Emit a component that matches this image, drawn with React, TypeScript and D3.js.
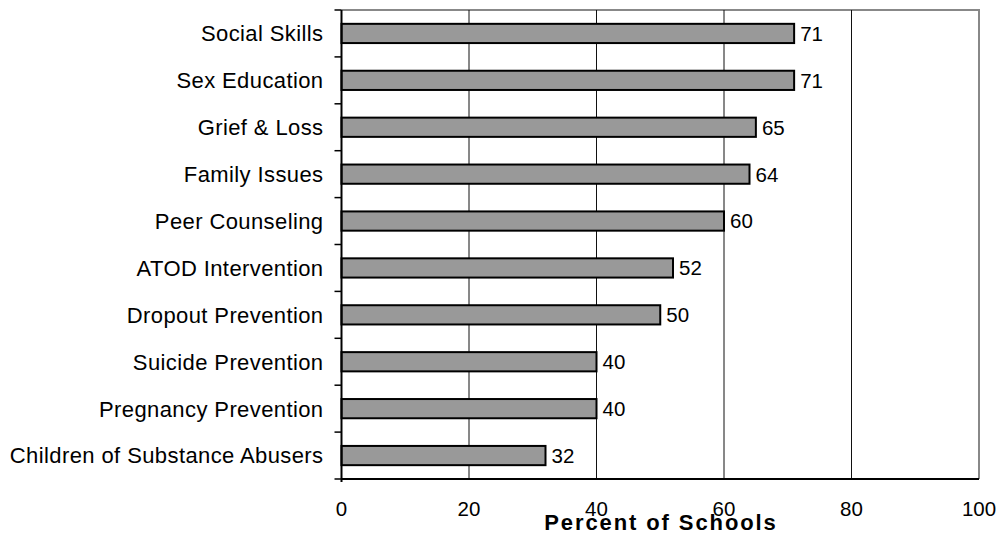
import { useEffect, useRef } from "react";
import * as d3 from "d3";

const categories = [
  "Social Skills",
  "Sex Education",
  "Grief & Loss",
  "Family Issues",
  "Peer Counseling",
  "ATOD Intervention",
  "Dropout Prevention",
  "Suicide Prevention",
  "Pregnancy Prevention",
  "Children of Substance Abusers",
];
const values = [71, 71, 65, 64, 60, 52, 50, 40, 40, 32];
const xTicks = [0, 20, 40, 60, 80, 100];

const W = 1007;
const H = 539;
const font = "Arial, 'Liberation Sans', sans-serif";

export default function App() {
  const ref = useRef<SVGSVGElement | null>(null);

  useEffect(() => {
    if (!ref.current) return;
    const svg = d3.select(ref.current);
    svg.selectAll("*").remove();

    const left = 341.5;
    const right = 979;
    const top = 10;
    const bottom = 479;

    const x = d3.scaleLinear().domain([0, 100]).range([left, right]);
    const y = d3
      .scaleBand<string>()
      .domain(categories)
      .range([top, bottom])
      .paddingInner(0.59)
      .paddingOuter(0.295);
    const band = d3.scaleBand<string>().domain(categories).range([top, bottom]);

    // frame (top/right gray)
    svg
      .append("path")
      .attr("d", `M${left},${top}H${right}V${bottom}`)
      .attr("fill", "none")
      .attr("stroke", "#888")
      .attr("stroke-width", 2);

    // gridlines
    svg
      .append("g")
      .selectAll("line")
      .data(xTicks.slice(1, -1))
      .join("line")
      .attr("x1", (d) => x(d))
      .attr("x2", (d) => x(d))
      .attr("y1", top)
      .attr("y2", bottom)
      .attr("stroke", "#111")
      .attr("stroke-width", 1);

    // bars
    const rows = categories.map((c, i) => ({ c, v: values[i] }));
    svg
      .append("g")
      .selectAll("rect")
      .data(rows)
      .join("rect")
      .attr("x", x(0))
      .attr("y", (d) => y(d.c)!)
      .attr("width", (d) => x(d.v) - x(0))
      .attr("height", y.bandwidth())
      .attr("fill", "#999999")
      .attr("stroke", "#000")
      .attr("stroke-width", 2);

    // value labels
    svg
      .append("g")
      .selectAll("text")
      .data(rows)
      .join("text")
      .attr("x", (d) => x(d.v) + 6)
      .attr("y", (d) => y(d.c)! + y.bandwidth() / 2)
      .attr("dy", "0.36em")
      .attr("font-family", font)
      .attr("font-size", 20.5)
      .text((d) => d.v);

    // category labels
    svg
      .append("g")
      .selectAll("text")
      .data(categories)
      .join("text")
      .attr("x", 323.5)
      .attr("y", (d) => y(d)! + y.bandwidth() / 2)
      .attr("dy", "0.36em")
      .attr("text-anchor", "end")
      .attr("font-family", font)
      .attr("font-size", 22)
      .attr("letter-spacing", 0.4)
      .text((d) => d);

    // left axis with ticks at band boundaries
    const bounds = categories.map((c) => band(c)!).concat([bottom]);
    svg
      .append("line")
      .attr("x1", left)
      .attr("x2", left)
      .attr("y1", top)
      .attr("y2", bottom + 3)
      .attr("stroke", "#000")
      .attr("stroke-width", 2);
    svg
      .append("g")
      .selectAll("line")
      .data(bounds)
      .join("line")
      .attr("x1", left - 7)
      .attr("x2", left)
      .attr("y1", (d) => d)
      .attr("y2", (d) => d)
      .attr("stroke", "#000")
      .attr("stroke-width", 1.5);

    // bottom axis
    svg
      .append("line")
      .attr("x1", left)
      .attr("x2", right)
      .attr("y1", bottom)
      .attr("y2", bottom)
      .attr("stroke", "#000")
      .attr("stroke-width", 2);
    svg
      .append("g")
      .selectAll("text")
      .data(xTicks)
      .join("text")
      .attr("x", (d) => x(d))
      .attr("y", 516)
      .attr("text-anchor", "middle")
      .attr("font-family", font)
      .attr("font-size", 20.5)
      .text((d) => d);

    svg
      .append("text")
      .attr("x", 661)
      .attr("y", 530)
      .attr("text-anchor", "middle")
      .attr("font-family", font)
      .attr("font-size", 22)
      .attr("font-weight", "bold")
      .attr("letter-spacing", 1.9)
      .text("Percent of Schools");
  }, []);

  return (
    <svg
      ref={ref}
      width={W}
      height={H}
      style={{ position: "absolute", left: 0, top: 0, background: "#fff" }}
    />
  );
}
